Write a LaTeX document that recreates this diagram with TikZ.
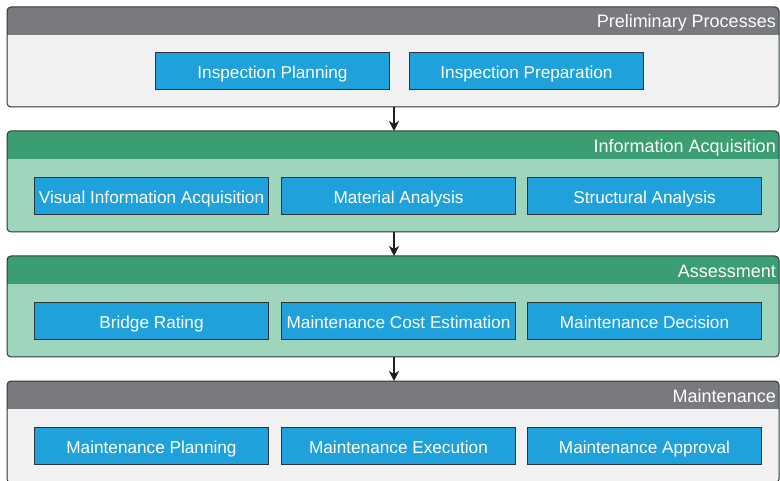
\documentclass[tikz,border=0pt]{standalone}
\usepackage{fontspec}
\setmainfont{Liberation Sans}
\usetikzlibrary{arrows.meta}
\definecolor{hgray}{HTML}{797A7E}
\definecolor{bgray}{HTML}{F0F1F0}
\definecolor{hgreen}{HTML}{3A9E72}
\definecolor{bgreen}{HTML}{9FD5BD}
\definecolor{boxblue}{HTML}{1FA2DB}
\definecolor{edge}{HTML}{2E3538}
\tikzset{
  stepbox/.style={draw=edge, line width=1pt, fill=boxblue, text=white, minimum width=234pt, minimum height=37pt, inner sep=0pt, text height=14.5pt, text depth=0pt, font=\fontsize{17.2}{19}\selectfont, anchor=north west},
  htitle/.style={text=white, font=\fontsize{18}{20}\selectfont, anchor=base east, inner sep=0pt},
  flow/.style={-{Stealth[length=10pt,width=10pt,inset=3pt]}, line width=1.6pt, draw=black!88},
}
\newcommand{\panel}[5]{% name, top y, bottom y, header color, body color
  \begin{scope}
    \clip[rounded corners=4pt] (7,#2) rectangle (779,#3);
    \fill[#5] (7,#2) rectangle (779,#3);
    \fill[#4] (7,#2) rectangle (779,#2-28);
  \end{scope}
  \draw[edge, line width=1pt, rounded corners=4pt] (7,#2) rectangle (779,#3);
  \coordinate (#1top) at (394,#2);
  \coordinate (#1bot) at (394,#3);
}
\begin{document}
\begin{tikzpicture}[x=1pt,y=1pt]
\useasboundingbox (0,0) rectangle (780,480);
\fill[white] (0,0) rectangle (780,480);
% panels (y = 480 - pixel y)
\panel{p1}{473}{373}{hgray}{bgray}
\panel{p2}{349}{248}{hgreen}{bgreen}
\panel{p3}{224}{123}{hgreen}{bgreen}
\panel{p4}{99}{-3}{hgray}{bgray}
\node[htitle] (t1) at (776,452.5) {Preliminary Processes};
\node[htitle] (t2) at (776,327.5) {Information Acquisition};
\node[htitle] (t3) at (776,202.5) {Assessment};
\node[htitle] (t4) at (776,77.5) {Maintenance};
% boxes
\node[stepbox] (a1) at (155,428) {Inspection Planning};
\node[stepbox] (a2) at (409,428) {Inspection Preparation};
\node[stepbox] (b1) at (34,303) {Visual Information Acquisition};
\node[stepbox] (b2) at (281,303) {Material Analysis};
\node[stepbox] (b3) at (527,303) {Structural Analysis};
\node[stepbox] (c1) at (34,178) {Bridge Rating};
\node[stepbox] (c2) at (281,178) {Maintenance Cost Estimation};
\node[stepbox] (c3) at (527,178) {Maintenance Decision};
\node[stepbox] (d1) at (34,53) {Maintenance Planning};
\node[stepbox] (d2) at (281,53) {Maintenance Execution};
\node[stepbox] (d3) at (527,53) {Maintenance Approval};
% arrows
\draw[flow] (p1bot) -- (p2top);
\draw[flow] (p2bot) -- (p3top);
\draw[flow] (p3bot) -- (p4top);
\end{tikzpicture}
\end{document}
